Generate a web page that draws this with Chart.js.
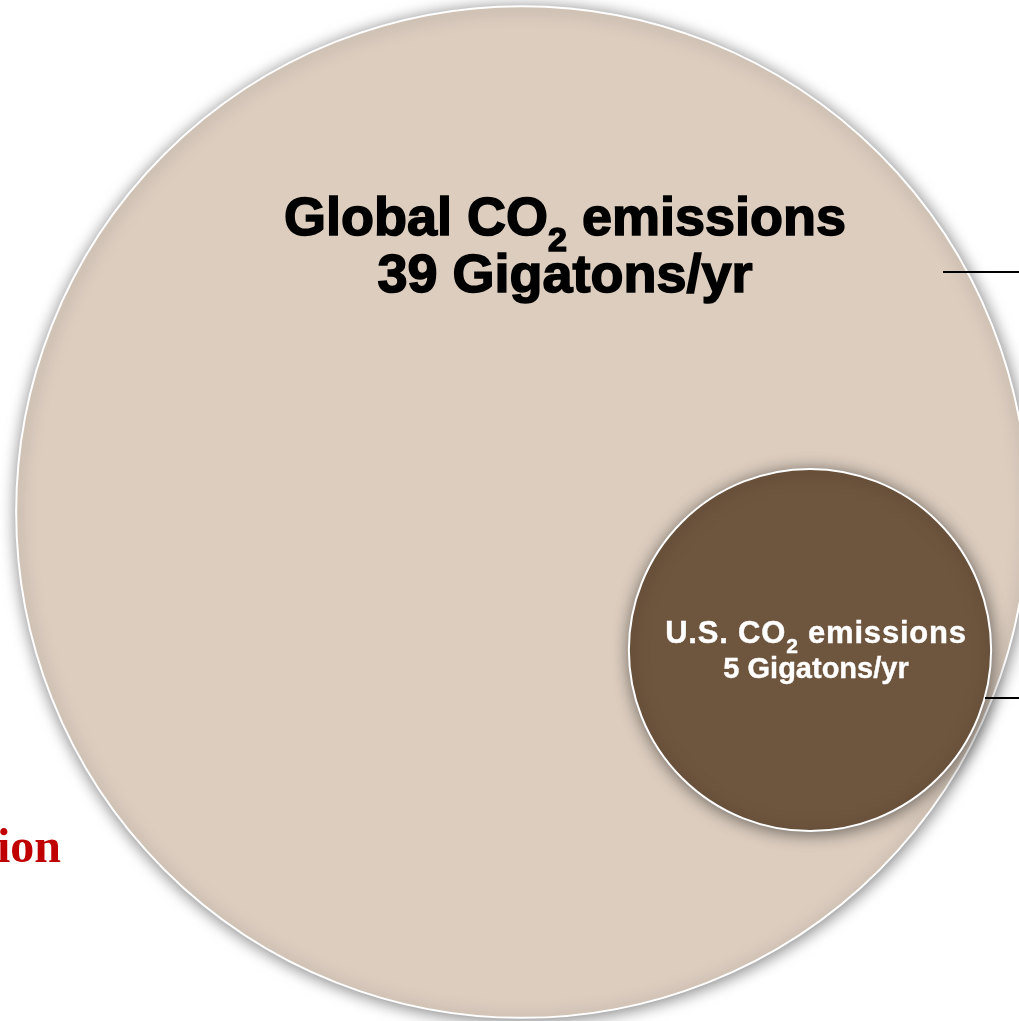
<!DOCTYPE html>
<html>
<head>
<meta charset="utf-8">
<script src="https://cdn.jsdelivr.net/npm/chart.js@4"></script>
<style>
  html, body { margin: 0; padding: 0; background: #fff; }
  canvas { display: block; }
</style>
</head>
<body>
<canvas id="emissionsChart" width="1019" height="1021"></canvas>
<script>
// emissions, gigatons of CO2 per year
const regions = ['Global', 'U.S.'];
const emissions = [39, 5];
const unitLabel = 'Gigatons/yr';

// bubble centres in canvas pixels and the area scale
const centres = [[522, 512], [810, 650]];
const pxPerRootGt = 81;

const fills = ['#DCCDBF', '#6E553E'];
const textColors = ['#000000', '#ffffff'];
const textStyle = [
    { size: 54, sub: 34, subDrop: 16, line2: 54, y1: 235, y2: 292, dx: 43, stroke: 1.6 },
    { size: 31, sub: 21, subDrop: 10, line2: 29, y1: 643, y2: 678, dx: 6, stroke: 0.4, spacing: 0.8 }
];

const softShadow = {
    id: 'softShadow',
    beforeDatasetDraw(chart) {
        const ctx = chart.ctx;
        ctx.save();
        ctx.shadowColor = 'rgba(0, 0, 0, 0.5)';
        ctx.shadowBlur = 16;
        ctx.shadowOffsetX = 1;
        ctx.shadowOffsetY = 2;
    },
    afterDatasetDraw(chart) {
        chart.ctx.restore();
    }
};

function drawCO2Line(ctx, prefix, cx, y, st) {
    const main = 'bold ' + st.size + 'px "Liberation Sans", Arial, sans-serif';
    const sub = 'bold ' + st.sub + 'px "Liberation Sans", Arial, sans-serif';
    const a = prefix + ' CO', b = '2', c = ' emissions';
    ctx.font = main;
    const wa = ctx.measureText(a).width, wc = ctx.measureText(c).width;
    ctx.font = sub;
    const wb = ctx.measureText(b).width;
    let x = cx - (wa + wb + wc) / 2;
    const parts = [[a, main, 0, wa], [b, sub, st.subDrop, wb], [c, main, 0, wc]];
    for (const [t, f, drop, w] of parts) {
        ctx.font = f;
        ctx.fillText(t, x, y + drop);
        if (st.stroke) ctx.strokeText(t, x, y + drop);
        x += w;
    }
}

const bubbleLabels = {
    id: 'bubbleLabels',
    afterDatasetsDraw(chart) {
        const ctx = chart.ctx;
        const meta = chart.getDatasetMeta(0);
        ctx.save();
        ctx.textAlign = 'left';
        ctx.textBaseline = 'alphabetic';
        meta.data.forEach((pt, i) => {
            const st = textStyle[i];
            const cx = pt.x + st.dx;
            ctx.fillStyle = textColors[i];
            ctx.strokeStyle = textColors[i];
            ctx.lineWidth = st.stroke;
            ctx.letterSpacing = (st.spacing || 0) + 'px';
            drawCO2Line(ctx, regions[i], cx, st.y1, st);
            ctx.letterSpacing = '0px';
            ctx.font = 'bold ' + st.line2 + 'px "Liberation Sans", Arial, sans-serif';
            const t2 = emissions[i] + ' ' + unitLabel;
            const w2 = ctx.measureText(t2).width;
            ctx.fillText(t2, cx - w2 / 2, st.y2);
            if (st.stroke) ctx.strokeText(t2, cx - w2 / 2, st.y2);
        });

        // leader lines running off to the right-hand callouts
        ctx.strokeStyle = '#000';
        ctx.lineWidth = 2;
        ctx.beginPath();
        ctx.moveTo(943, 272); ctx.lineTo(1019, 272);
        ctx.moveTo(985, 698); ctx.lineTo(1019, 698);
        ctx.stroke();

        // tail of the left-hand caption
        ctx.fillStyle = '#C00000';
        ctx.font = 'bold 48px "Liberation Serif", "Times New Roman", serif';
        ctx.fillText('ion', -3, 862);
        ctx.restore();
    }
};

new Chart(document.getElementById('emissionsChart'), {
    type: 'bubble',
    data: {
        labels: regions,
        datasets: [{
            data: emissions.map((v, i) => ({
                x: centres[i][0],
                y: centres[i][1],
                r: pxPerRootGt * Math.sqrt(v)
            })),
            backgroundColor: fills,
            borderColor: '#ffffff',
            borderWidth: 2,
            hoverBorderWidth: 2,
            clip: false
        }]
    },
    options: {
        responsive: false,
        animation: false,
        devicePixelRatio: 1,
        layout: { autoPadding: false, padding: 0 },
        events: [],
        plugins: {
            legend: { display: false },
            tooltip: { enabled: false }
        },
        scales: {
            x: { type: 'linear', min: 0, max: 1019, display: false },
            y: { type: 'linear', min: 0, max: 1021, reverse: true, display: false }
        }
    },
    plugins: [softShadow, bubbleLabels]
});
</script>
</body>
</html>
